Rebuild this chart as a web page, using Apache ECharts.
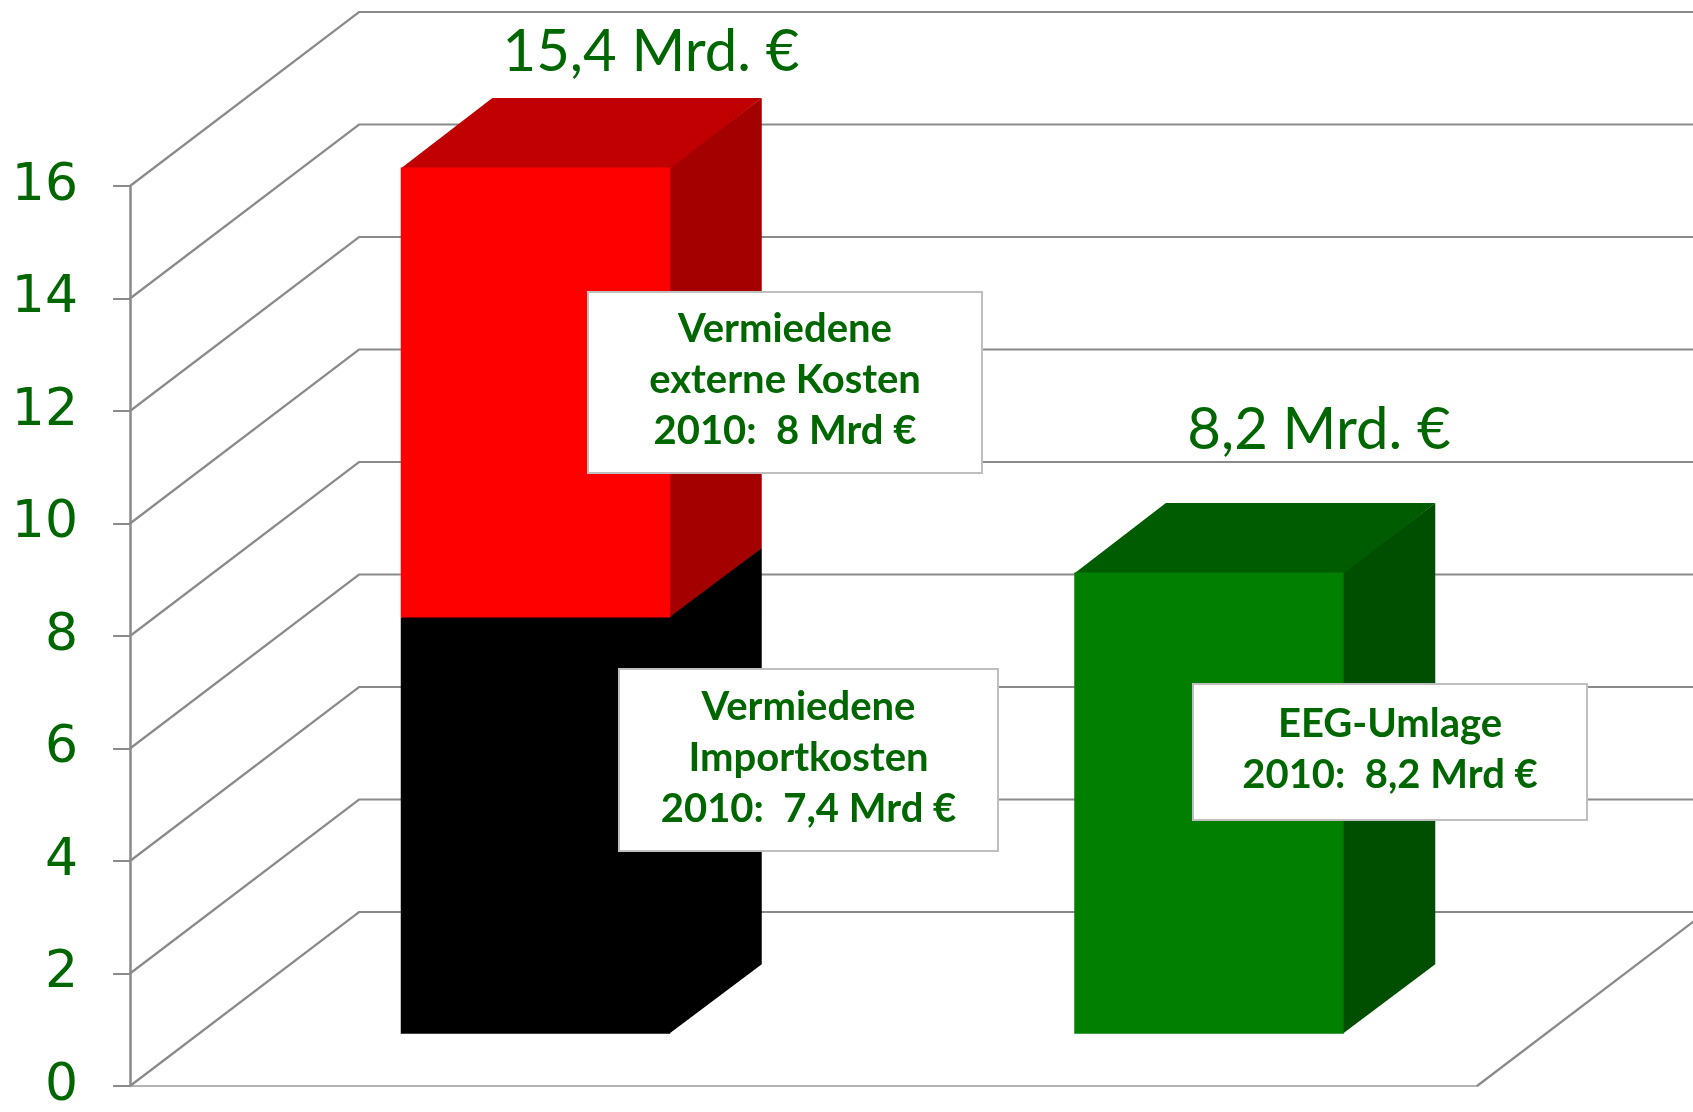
<!DOCTYPE html>
<html>
<head>
<meta charset="utf-8">
<script src="https://cdn.jsdelivr.net/npm/echarts@6/dist/echarts.min.js"></script>
<style>
html, body { margin: 0; padding: 0; background: #fff; }
#chart { width: 1693px; height: 1112px; }
</style>
</head>
<body>
<div id="chart"></div>
<script>
// data
const categories = ['Vermiedene Kosten', 'EEG-Umlage'];
const importCosts = [7.4, null];    // black, bottom of stack
const externalCosts = [8, null];    // red, on top of black
const eegLevy = [null, 8.2];        // green
const yTicks = [0, 2, 4, 6, 8, 10, 12, 14, 16];

// 3d look (oblique projection)
const DEPTH = [229, -174];
const BAR_FRONT = 0.3;
const BAR_DEPTH = 0.4;
const BAR_WIDTH = 0.4;

const GREEN_TEXT = '#006600';
const GRID_GREY = '#8a8a8a';

const fmt = v => String(Math.round(v * 10) / 10).replace('.', ',');

function boxShape(api, cat, lo, hi, colors) {
    const top = api.coord([cat, hi]);
    const bot = api.coord([cat, lo]);
    const w = api.size([1, 0])[0] * BAR_WIDTH;
    const fx = DEPTH[0] * BAR_FRONT, fy = DEPTH[1] * BAR_FRONT;
    const dx = DEPTH[0] * BAR_DEPTH, dy = DEPTH[1] * BAR_DEPTH;
    const x0 = top[0] - w / 2 + fx, x1 = x0 + w;
    const y0 = top[1] + fy, y1 = bot[1] + fy;
    return {
        type: 'group',
        children: [
            {type: 'polygon', shape: {points: [[x1 - 1, y0], [x1 + dx, y0 + dy], [x1 + dx, y1 + dy], [x1 - 1, y1]]}, style: {fill: colors.side}},
            {type: 'polygon', shape: {points: [[x0, y0 + 1], [x0 + dx, y0 + dy], [x1 + dx, y0 + dy], [x1, y0 + 1]]}, style: {fill: colors.top}},
            {type: 'rect', shape: {x: x0, y: y0, width: w, height: y1 - y0}, style: {fill: colors.front}}
        ]
    };
}

function barSeries(name, rows, colors) {
    return {
        type: 'custom',
        name: name,
        data: rows,
        encode: {x: 0, y: [1, 2]},
        z: 5,
        renderItem: (params, api) => boxShape(api, api.value(0), api.value(1), api.value(2), colors)
    };
}

const blackRows = [], redRows = [], greenRows = [];
categories.forEach((c, i) => {
    if (importCosts[i] != null) blackRows.push([i, 0, importCosts[i]]);
    if (externalCosts[i] != null) redRows.push([i, importCosts[i] || 0, (importCosts[i] || 0) + externalCosts[i]]);
    if (eegLevy[i] != null) greenRows.push([i, 0, eegLevy[i]]);
});

const wallSeries = {
    type: 'custom',
    name: 'wall',
    data: yTicks.map(v => [0, v]),
    encode: {x: 0, y: 1},
    z: 1,
    silent: true,
    renderItem: (params, api) => {
        const cs = params.coordSys;
        const y = api.coord([0, api.value(1)])[1];
        const left = cs.x, right = cs.x + cs.width;
        const children = [{
            type: 'polyline',
            shape: {points: [[left, y], [left + DEPTH[0], y + DEPTH[1]], [right + DEPTH[0] + 40, y + DEPTH[1]]]},
            style: {stroke: GRID_GREY, lineWidth: 2.2, fill: null}
        }];
        if (api.value(1) === 0) {
            children.push({
                type: 'line',
                shape: {x1: right, y1: y, x2: right + DEPTH[0], y2: y + DEPTH[1]},
                style: {stroke: GRID_GREY, lineWidth: 2.2}
            });
        }
        return {type: 'group', children: children};
    }
};

const redTotal = importCosts[0] + externalCosts[0];

const notes = [
    {x: 588, y: 292, w: 394, h: 181, text: 'Vermiedene\nexterne Kosten\n2010:  ' + fmt(externalCosts[0]) + ' Mrd €'},
    {x: 619, y: 669, w: 379, h: 182, text: 'Vermiedene\nImportkosten\n2010:  ' + fmt(importCosts[0]) + ' Mrd €'},
    {x: 1193, y: 684, w: 394, h: 136, text: 'EEG-Umlage\n2010:  ' + fmt(eegLevy[1]) + ' Mrd €'}
];

const graphics = [];
notes.forEach(n => {
    graphics.push({
        type: 'rect', z: 20,
        shape: {x: n.x, y: n.y, width: n.w, height: n.h},
        style: {fill: '#fff', stroke: '#bfbfbf', lineWidth: 2}
    });
    graphics.push({
        type: 'text', z: 21,
        x: n.x + n.w / 2, y: n.y + n.h / 2 - 2,
        style: {
            text: n.text, fill: GREEN_TEXT,
            fontFamily: 'Lato', fontWeight: 'bold', fontSize: 40,
            lineHeight: 51, align: 'center', verticalAlign: 'middle'
        }
    });
});
[
    {x: 651, y: 52, text: fmt(redTotal) + ' Mrd. €'},
    {x: 1319, y: 430, text: fmt(eegLevy[1]) + ' Mrd. €'}
].forEach(t => {
    graphics.push({
        type: 'text', z: 21, x: t.x, y: t.y,
        style: {
            text: t.text, fill: GREEN_TEXT,
            fontFamily: 'Lato', fontSize: 58,
            align: 'center', verticalAlign: 'middle'
        }
    });
});

const chart = echarts.init(document.getElementById('chart'));
const option = {
    backgroundColor: '#fff',
    animation: false,
    grid: {left: 130, right: 216, top: 186, bottom: 24, containLabel: false},
    xAxis: {
        type: 'category',
        data: categories,
        axisLine: {show: true, lineStyle: {color: '#b3b3b3', width: 2}},
        axisTick: {show: false},
        axisLabel: {show: false},
        splitLine: {show: false}
    },
    yAxis: {
        type: 'value',
        min: 0, max: 16, interval: 2,
        axisLine: {show: true, lineStyle: {color: GRID_GREY, width: 2.5}},
        axisTick: {show: true, length: 17, lineStyle: {color: GRID_GREY, width: 2}},
        axisLabel: {
            color: GREEN_TEXT, fontSize: 52, fontFamily: 'DejaVu Sans', margin: 52
        },
        splitLine: {show: false}
    },
    series: [
        wallSeries,
        barSeries('Vermiedene Importkosten', blackRows, {front: '#000000', side: '#000000', top: '#000000'}),
        barSeries('Vermiedene externe Kosten', redRows, {front: '#ff0000', side: '#a50000', top: '#c00000'}),
        barSeries('EEG-Umlage', greenRows, {front: '#007f00', side: '#004f00', top: '#005c00'})
    ],
    graphic: graphics
};
chart.setOption(option);
</script>
</body>
</html>
